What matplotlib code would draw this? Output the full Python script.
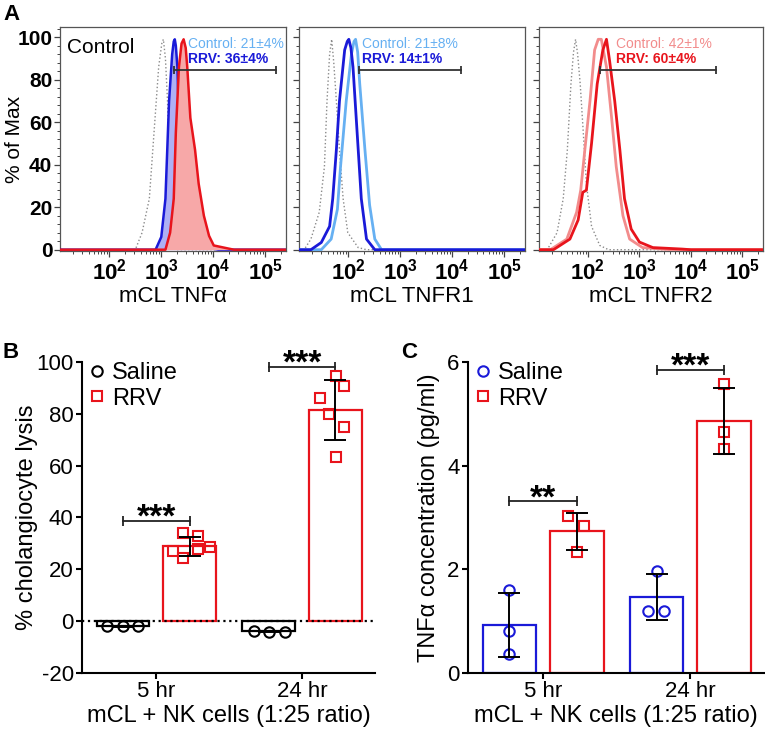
import matplotlib.pyplot as plt
from matplotlib.lines import Line2D
from matplotlib.ticker import MultipleLocator, LogLocator, NullFormatter
import numpy as np

plt.rcParams['font.family'] = ['Liberation Sans', 'DejaVu Sans']
plt.rcParams['mathtext.fontset'] = 'custom'
plt.rcParams['mathtext.rm'] = 'Liberation Sans'
plt.rcParams['mathtext.bf'] = 'Liberation Sans:bold'
plt.rcParams['axes.unicode_minus'] = False

GRAY = '#8a8a8a'
LIGHT_BLUE = '#66b0f2'
BLUE = '#1a1ad8'
RED = '#e8141c'
PINK = '#f28c8c'
BLUE_FILL = '#aeb0f4'
RED_FILL = '#f7a8a8'

# ---------------- panel A: flow histograms (log10 intensity, % of max) ----------------
tnfa_iso_log = [2.50, 2.63, 2.77, 2.86, 2.95, 3.01, 3.04, 3.08, 3.12, 3.15, 3.18, 3.24, 3.30]
tnfa_iso_pct = [0, 8, 24, 55, 86, 97, 99, 90, 70, 39, 16, 2, 0]
tnfa_ctrl_log = [2.89, 3.00, 3.08, 3.15, 3.21, 3.24, 3.26, 3.28, 3.31, 3.34, 3.40, 3.46, 3.60,
                 4.00, 4.10]
tnfa_ctrl_pct = [0, 6, 24, 70, 92, 98, 99, 96, 86, 62, 31, 8, 1, 0.5, 0]
tnfa_rrv_log = [3.08, 3.17, 3.24, 3.28, 3.34, 3.39, 3.43, 3.47, 3.50, 3.56, 3.65, 3.72, 3.82,
                3.92, 4.01, 4.30, 4.40]
tnfa_rrv_pct = [0, 8, 24, 55, 86, 97, 99, 95, 86, 62, 47, 31, 16, 6.5, 2, 0.5, 0]

tnfr1_iso_log = [1.15, 1.28, 1.44, 1.54, 1.59, 1.64, 1.68, 1.72, 1.77, 1.83, 1.90, 1.99, 2.19,
                 2.35]
tnfr1_iso_pct = [0, 5, 17.6, 39, 70, 92, 99, 88, 70, 47, 24, 8, 1, 0]
tnfr1_ctrl_log = [1.48, 1.67, 1.79, 1.85, 1.96, 2.06, 2.11, 2.14, 2.18, 2.22, 2.32, 2.41, 2.51,
                  2.64]
tnfr1_ctrl_pct = [0, 5, 19, 39, 70, 92, 98, 99, 93, 78, 47, 21, 5, 0]
tnfr1_rrv_log = [1.28, 1.48, 1.64, 1.70, 1.77, 1.83, 1.93, 1.98, 2.01, 2.05, 2.09, 2.17, 2.25,
                 2.35, 2.51]
tnfr1_rrv_pct = [0, 3.4, 11, 24, 47, 70, 94, 98, 99, 95, 86, 55, 24, 5, 0]

tnfr2_iso_log = [1.21, 1.40, 1.52, 1.60, 1.67, 1.72, 1.76, 1.80, 1.85, 1.91, 1.97, 2.07, 2.23,
                 2.40]
tnfr2_iso_pct = [0, 8, 24, 47, 78, 93, 99, 92, 78, 55, 31, 11, 2, 0]
tnfr2_ctrl_log = [1.27, 1.59, 1.78, 1.86, 1.94, 2.04, 2.13, 2.20, 2.26, 2.36, 2.46, 2.55,
                  2.68, 2.81, 3.06, 3.60]
tnfr2_ctrl_pct = [0, 5, 17.6, 28, 47, 70, 94, 99, 99, 86, 62, 39, 16, 5, 1, 0]
tnfr2_rrv_log = [1.33, 1.65, 1.81, 1.90, 1.97, 2.07, 2.18, 2.29, 2.36, 2.42, 2.52, 2.62,
                 2.71, 2.84, 3.00, 3.26, 3.83, 4.00]
tnfr2_rrv_pct = [0, 5, 14, 27, 28, 50, 78, 94, 99, 89, 70, 47, 24, 9.7, 3.6, 1, 0.3, 0]

a_xlabels = ['mCL TNF\u03b1', 'mCL TNFR1', 'mCL TNFR2']
a_ctrl_text = ['Control: 21\u00b14%', 'Control: 21\u00b18%', 'Control: 42\u00b11%']
a_rrv_text = ['RRV: 36\u00b14%', 'RRV: 14\u00b11%', 'RRV: 60\u00b14%']
a_text_log = [3.52, 2.27, 2.55]
a_gate_log = [(3.24, 5.20), (2.20, 4.16), (2.24, 4.48)]
a_gate_pct = 84.6

# ---------------- panel B: cholangiocyte lysis ----------------
times = ['5 hr', '24 hr']
lysis_saline_mean = [-2.0, -4.0]
lysis_saline_sd = [0.2, 0.3]
lysis_saline_pts = [[-2.0, -2.0, -2.0], [-3.8, -4.3, -4.3]]
lysis_saline_jit = [[-0.112, 0.0, 0.103], [-0.103, 0.0, 0.114]]
lysis_rrv_mean = [28.9, 81.5]
lysis_rrv_sd = [3.6, 11.5]
lysis_rrv_pts = [[26.9, 24.3, 33.9, 32.7, 27.8, 28.7], [94.5, 90.6, 86.0, 79.9, 74.8, 63.2]]
lysis_rrv_jit = [[-0.114, -0.046, -0.046, 0.057, 0.057, 0.142],
                 [0.005, 0.057, -0.107, -0.046, 0.057, 0.005]]
lysis_sig = ['***', '***']
lysis_sig_y = [38.7, 98.2]

# ---------------- panel C: TNFa concentration ----------------
tnf_saline_mean = [0.93, 1.46]
tnf_saline_sd = [0.62, 0.44]
tnf_saline_pts = [[1.61, 0.81, 0.36], [1.97, 1.20, 1.20]]
tnf_saline_jit = [[0.0, 0.0, 0.0], [0.0, -0.057, 0.052]]
tnf_rrv_mean = [2.73, 4.86]
tnf_rrv_sd = [0.36, 0.645]
tnf_rrv_pts = [[3.02, 2.84, 2.33], [5.58, 4.64, 4.33]]
tnf_rrv_jit = [[-0.057, 0.05, 0.0], [0.0, 0.0, 0.0]]
tnf_sig = ['**', '***']
tnf_sig_y = [3.31, 5.85]

XMIN_LOG, XMAX_LOG = 1.05, 5.4

fig = plt.figure(figsize=(7.65, 7.33), dpi=100)


def hist_axes(rect, curves, idx, ctrl_color, rrv_color):
    ax = fig.add_axes(rect)
    z = 2
    for lx, pct, color, ls, lw, fill in curves:
        x = 10 ** np.array([XMIN_LOG] + lx + [XMAX_LOG])
        y = np.array([0] + pct + [0])
        if fill:
            ax.fill_between(x, 0, y, color=fill, lw=0, zorder=z)
        ax.plot(x, y, color=color, ls=ls, lw=lw, zorder=z + 0.5)
        z += 1
    ax.set_xscale('log')
    ax.set_xlim(10 ** XMIN_LOG, 10 ** XMAX_LOG)
    ax.set_ylim(-0.6, 104.8)
    ax.set_xticks([1e2, 1e3, 1e4, 1e5])
    ax.set_xticklabels([r'$\mathbf{10^{2}}$', r'$\mathbf{10^{3}}$',
                        r'$\mathbf{10^{4}}$', r'$\mathbf{10^{5}}$'], fontsize=16)
    ax.xaxis.set_minor_locator(LogLocator(base=10, subs=np.arange(2, 10)))
    ax.xaxis.set_minor_formatter(NullFormatter())
    ax.yaxis.set_major_locator(MultipleLocator(20))
    ax.yaxis.set_minor_locator(MultipleLocator(4))
    ax.tick_params(which='major', length=4, width=0.9, color='#444444', pad=1.5)
    ax.tick_params(which='minor', length=2.5, width=0.7, color='#444444')
    for s in ax.spines.values():
        s.set_color('#555555')
        s.set_linewidth(0.9)
    if idx == 0:
        ax.set_yticks([0, 20, 40, 60, 80, 100])
        ax.set_yticklabels(['0', '20', '40', '60', '80', '100'], fontsize=15, fontweight='bold')
        ax.set_ylabel('% of Max', fontsize=15)
        ax.yaxis.set_label_coords(-0.158, 0.5)
        ax.text(0.03, 0.95, 'Control', transform=ax.transAxes, fontsize=15, va='top')
    else:
        ax.set_yticklabels([])
    ax.set_xlabel(a_xlabels[idx], fontsize=16, labelpad=1)
    g0, g1 = a_gate_log[idx]
    ax.plot([10 ** g0, 10 ** g1], [a_gate_pct, a_gate_pct], color='#333333', lw=1.3,
            marker='|', markersize=6, markeredgewidth=1.3, zorder=10)
    tx = 10 ** a_text_log[idx]
    ax.text(tx, 97, a_ctrl_text[idx], color=ctrl_color, fontsize=10, va='center', zorder=11)
    ax.text(tx, 89.5, a_rrv_text[idx], color=rrv_color, fontsize=10, va='center',
            fontweight='bold', zorder=11)
    return ax


hist_axes([0.0784, 0.6576, 0.2954, 0.3056],
          [(tnfa_iso_log, tnfa_iso_pct, GRAY, ':', 1.0, None),
           (tnfa_ctrl_log, tnfa_ctrl_pct, BLUE, '-', 1.8, BLUE_FILL),
           (tnfa_rrv_log, tnfa_rrv_pct, RED, '-', 1.8, RED_FILL)],
          0, LIGHT_BLUE, BLUE)
hist_axes([0.3908, 0.6576, 0.2954, 0.3056],
          [(tnfr1_iso_log, tnfr1_iso_pct, GRAY, ':', 1.0, None),
           (tnfr1_ctrl_log, tnfr1_ctrl_pct, LIGHT_BLUE, '-', 2.0, None),
           (tnfr1_rrv_log, tnfr1_rrv_pct, BLUE, '-', 2.0, None)],
          1, LIGHT_BLUE, BLUE)
hist_axes([0.7046, 0.6576, 0.2928, 0.3056],
          [(tnfr2_iso_log, tnfr2_iso_pct, GRAY, ':', 1.0, None),
           (tnfr2_ctrl_log, tnfr2_ctrl_pct, PINK, '-', 2.0, None),
           (tnfr2_rrv_log, tnfr2_rrv_pct, RED, '-', 2.0, None)],
          2, PINK, RED)


def bar_axes(rect, saline, rrv, saline_color, sig, sig_y, ylim, yticks, ylabel,
             label_x, zero_line):
    ax = fig.add_axes(rect)
    x = np.arange(len(times))
    off, w = 0.229, 0.363
    for (mean, sd, pts, jit), pos, color, marker in [(saline, -off, saline_color, 'o'),
                                                     (rrv, off, RED, 's')]:
        ax.bar(x + pos, mean, width=w, facecolor='white', edgecolor=color, lw=1.6, zorder=2)
        for i in range(len(times)):
            ax.plot(x[i] + pos + np.array(jit[i]), pts[i], ls='none', marker=marker,
                    markersize=7.5, markerfacecolor='none', markeredgecolor=color,
                    markeredgewidth=1.5, zorder=4)
        ax.errorbar(x + pos, mean, yerr=sd, fmt='none', ecolor='black', elinewidth=1.4,
                    capsize=8, capthick=1.4, zorder=5)
    if zero_line:
        ax.axhline(0, color='black', ls=':', lw=1.6, zorder=3)
    span = ylim[1] - ylim[0]
    for i in range(len(times)):
        ax.plot([x[i] - off, x[i] + off], [sig_y[i], sig_y[i]], color='#222222', lw=1.3,
                marker='|', markersize=7, markeredgewidth=1.3, clip_on=False)
        ax.text(x[i], sig_y[i] - 0.042 * span, sig[i], ha='center', va='bottom',
                fontsize=24, fontweight='bold')
    ax.set_xlim(-0.51, 1.5)
    ax.set_ylim(*ylim)
    ax.set_yticks(yticks)
    ax.set_xticks(x)
    ax.set_xticklabels(times)
    ax.tick_params(labelsize=16, length=4.5, width=1.5, pad=1.5)
    for s in ['top', 'right']:
        ax.spines[s].set_visible(False)
    for s in ['left', 'bottom']:
        ax.spines[s].set_linewidth(1.5)
    ax.set_ylabel(ylabel, fontsize=17)
    ax.yaxis.set_label_coords(label_x, 0.5)
    ax.set_xlabel('mCL + NK cells (1:25 ratio)', fontsize=17, labelpad=2)
    handles = [Line2D([], [], ls='none', marker='o', markersize=7.5, markerfacecolor='none',
                      markeredgecolor=saline_color, markeredgewidth=1.5),
               Line2D([], [], ls='none', marker='s', markersize=7.5, markerfacecolor='none',
                      markeredgecolor=RED, markeredgewidth=1.5)]
    ax.legend(handles, ['Saline', 'RRV'], loc='upper left', bbox_to_anchor=(-0.01, 1.03),
              frameon=False, fontsize=17, handlelength=0.7, handletextpad=0.3,
              labelspacing=0.15, borderaxespad=0)
    return ax


bar_axes([0.1072, 0.0819, 0.383, 0.4243],
         (lysis_saline_mean, lysis_saline_sd, lysis_saline_pts, lysis_saline_jit),
         (lysis_rrv_mean, lysis_rrv_sd, lysis_rrv_pts, lysis_rrv_jit),
         'black', lysis_sig, lysis_sig_y, (-20, 100), [-20, 0, 20, 40, 60, 80, 100],
         '% cholangiocyte lysis', -0.15, True)
bar_axes([0.6118, 0.0819, 0.387, 0.4243],
         (tnf_saline_mean, tnf_saline_sd, tnf_saline_pts, tnf_saline_jit),
         (tnf_rrv_mean, tnf_rrv_sd, tnf_rrv_pts, tnf_rrv_jit),
         BLUE, tnf_sig, tnf_sig_y, (0, 6), [0, 2, 4, 6],
         'TNF\u03b1 concentration (pg/ml)', -0.095, False)

fig.text(0.004, 0.995, 'A', fontsize=16, fontweight='bold', va='top')
fig.text(0.003, 0.533, 'B', fontsize=16, fontweight='bold', va='top')
fig.text(0.525, 0.533, 'C', fontsize=16, fontweight='bold', va='top')

fig.savefig('out.png', dpi=100)
